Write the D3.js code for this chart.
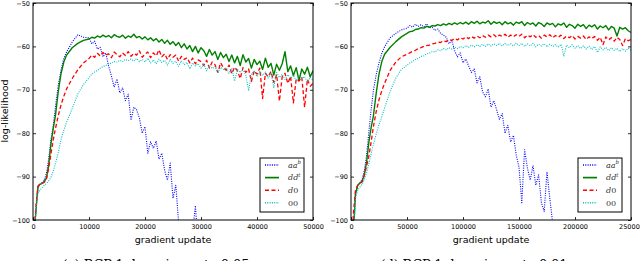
<!DOCTYPE html>
<html>
<head>
<meta charset="utf-8">
<script src="https://cdn.jsdelivr.net/npm/d3@7"></script>
<style>
  body { margin: 0; background: #fff; }
  svg { display: block; }
  .axis text { font-family: "DejaVu Sans", sans-serif; font-size: 6.5px; fill: #000; }
  .axis line { stroke: #000; stroke-width: 0.8; }
</style>
</head>
<body>
<div id="chart"></div>
<script>
// gradient updates, learning rate 0.05 panel
const updatesA = [0, 400, 700, 900, 1200, 1600, 2000, 2400, 2800, 3200, 3600, 4000, 4500, 5000, 5500, 6000, 7000, 8000, 9000,
  10000, 10500, 11000, 11500, 12000, 12500, 13000, 13500, 14000, 14500,
  15000, 15500, 16000, 16500, 17000, 17500, 18000, 18500, 19000, 19500,
  20000, 20500, 21000, 21500, 22000, 22500, 23000, 23500, 24000, 24500,
  25000, 25500, 26000, 26500, 27000, 27500, 28000, 28500, 29000, 29500,
  30000, 30500, 31000, 31500, 32000, 32500, 33000, 33500, 34000, 34500,
  35000, 35500, 36000, 36500, 37000, 37500, 38000, 38500, 39000, 39500,
  40000, 40500, 41000, 41500, 42000, 42500, 43000, 43500, 44000, 44500,
  45000, 45500, 46000, 46500, 47000, 47500, 48000, 48500, 49000, 49500,
  50000];

const abA = [-115, -100, -95, -92.5, -91.8, -91.4, -90.8, -89.2, -86, -81.5, -78.5, -74, -69, -65.5, -62.8, -61.3, -59.0, -57.3, -57.9,
  -58.0, -59.4, -58.8, -60.6, -60.2, -62.4, -61.5, -64.5, -66.8, -69.4,
  -67.5, -70.7, -69.5, -72.5, -71.0, -77.0, -74.0, -74.6, -76.5, -80.0,
  -78.5, -84.6, -82.0, -83.5, -81.8, -86.0, -84.6, -88.5, -90.8, -86.9,
  -95.0, -92.0, -100.5, -104, -108, -106, -110, -103, -96.7, -106,
  -112];

const dtA = [-115, -100, -95, -92.2, -91.8, -91.6, -91.2, -90.3, -87.5, -82.5, -79, -76, -70.5, -66.3, -63.6, -62, -60.3, -59.3, -58.6,
  -58.3, -57.9, -58.1, -57.6, -57.9, -57.4, -57.8, -57.5, -58.0, -57.3,
  -57.7, -57.9, -57.4, -58.1, -57.6, -57.9, -57.2, -58.0, -57.7, -58.3,
  -57.8, -58.5, -58.0, -58.7, -58.2, -59.0, -58.4, -59.3, -58.6, -59.5,
  -58.9, -59.8, -59.1, -60.3, -59.4, -60.6, -59.8, -61.2, -60.0, -61.5,
  -60.3, -61.0, -62.3, -60.7, -62.0, -61.2, -63.0, -61.4, -62.6, -61.8,
  -63.5, -62.0, -63.8, -62.3, -64.4, -61.9, -63.6, -62.8, -65.0, -63.0,
  -64.2, -63.4, -65.3, -62.7, -64.8, -63.9, -66.6, -64.1, -65.5, -64.0,
  -61.2, -65.8, -64.5, -66.7, -64.9, -67.8, -65.2, -66.4, -64.8, -67.0,
  -65.6];

const d0A = [-115, -99, -94.5, -92.2, -91.8, -91.6, -91.3, -90.6, -88, -84.8, -81.6, -79, -76, -73.5, -71.5, -69.8, -67.4, -65.4, -63.8,
  -62.8, -62.0, -62.5, -61.6, -62.2, -61.4, -62.0, -61.7, -62.6, -61.3,
  -61.9, -62.4, -61.5, -62.1, -61.2, -62.3, -61.6, -62.0, -61.0, -62.5,
  -61.8, -61.3, -62.6, -61.5, -62.2, -60.8, -62.4, -61.7, -63.0, -61.9,
  -62.5, -62.0, -63.4, -62.3, -63.0, -62.6, -63.8, -62.7, -64.0, -63.1,
  -63.5, -64.4, -63.2, -65.0, -63.6, -64.2, -66.0, -63.8, -64.9, -65.5,
  -64.3, -66.3, -64.8, -65.6, -67.4, -64.9, -66.0, -65.2, -68.1, -65.6,
  -66.4, -65.0, -72.0, -66.2, -67.0, -65.8, -68.3, -66.5, -72.6, -67.0,
  -66.2, -68.5, -66.9, -73.0, -67.5, -68.0, -67.1, -74.0, -67.6, -69.2,
  -68.5];

const zzA = [-115, -100, -95.5, -93.8, -93.2, -92.6, -92.0, -91.6, -91.0, -90.2, -88.8, -87.0, -84.5, -81.5, -79.3, -77.5, -74.3, -71, -68.8,
  -67.2, -66.4, -65.9, -65.6, -65.0, -64.6, -64.4, -64.0, -63.9, -63.5,
  -63.6, -63.2, -63.5, -63.0, -63.3, -62.9, -63.4, -62.8, -63.5, -63.0,
  -63.6, -62.7, -63.8, -63.1, -64.0, -62.9, -63.7, -63.2, -64.3, -63.0,
  -63.9, -63.4, -64.6, -63.3, -64.2, -63.7, -65.2, -63.8, -64.5, -64.0,
  -65.0, -64.1, -65.6, -64.4, -65.1, -64.6, -66.0, -64.8, -65.3, -64.9,
  -66.2, -65.0, -68.0, -65.3, -66.0, -65.4, -66.6, -70.2, -66.3, -65.7,
  -67.0, -65.8, -66.7, -65.9, -67.3, -66.1, -69.5, -66.0, -67.2, -66.4,
  -67.6, -66.5, -67.4, -66.6, -68.0, -66.8, -67.6, -66.9, -68.2, -67.1,
  -67.8];

// gradient updates, learning rate 0.01 panel
const updatesB = [0, 2000, 4000, 6000, 8000, 10000, 12000, 14000, 16000, 18000, 20000, 22500, 25000, 27500, 30000, 35000, 40000, 45000,
  50000, 52500, 55000, 57500, 60000, 62500, 65000, 67500, 70000, 72500,
  75000, 77500, 80000, 82500, 85000, 87500, 90000, 92500, 95000, 97500,
  100000, 102500, 105000, 107500, 110000, 112500, 115000, 117500, 120000, 122500,
  125000, 127500, 130000, 132500, 135000, 137500, 140000, 142500, 145000, 147500,
  150000, 152500, 155000, 157500, 160000, 162500, 165000, 167500, 170000, 172500,
  175000, 177500, 180000, 182500, 185000, 187500, 190000, 192500, 195000, 197500,
  200000, 202500, 205000, 207500, 210000, 212500, 215000, 217500, 220000, 222500,
  225000, 227500, 230000, 232500, 235000, 237500, 240000, 242500, 245000, 247500,
  250000];

const abB = [-115, -103, -94, -92, -91.4, -90.5, -88.5, -85, -79.5, -74.5, -70.2, -66.5, -63.8, -61.6, -60.1, -58, -57, -56.2,
  -55.8, -55.2, -55.6, -54.9, -55.4, -55.0, -55.5, -54.8, -55.7, -55.6,
  -56.3, -56.0, -57.0, -57.4, -57.9, -59.4, -58.6, -61.0, -62.4, -61.5,
  -63.8, -62.9, -64.5, -66.0, -65.2, -68.4, -67.0, -70.5, -71.6, -69.8,
  -74.0, -72.5, -74.6, -76.8, -75.5, -80.0, -78.2, -82.0, -80.5, -85.0,
  -87.8, -96.0, -83.8, -88.0, -90.8, -87.5, -92.0, -89.6, -96.0, -98.0,
  -88.9, -95.0, -100.5, -104, -108];

const dtB = [-115, -104, -94, -92, -91.5, -91, -89.5, -86.5, -82, -78.6, -76, -70.8, -66.4, -63.5, -61.8, -60.2, -58.9, -57.8,
  -57.0, -56.6, -56.5, -56.1, -56.0, -55.7, -55.8, -55.4, -55.6, -55.2,
  -55.3, -55.0, -55.2, -54.8, -55.1, -54.7, -55.0, -54.6, -54.9, -54.5,
  -54.8, -54.4, -54.9, -54.3, -54.7, -54.2, -54.8, -54.4, -54.6, -54.1,
  -54.9, -54.3, -54.7, -54.4, -55.0, -54.3, -54.8, -54.5, -55.1, -54.4,
  -54.7, -54.3, -55.2, -54.5, -54.9, -54.6, -55.3, -54.5, -54.8, -55.4,
  -54.6, -55.0, -54.7, -55.5, -54.8, -55.1, -54.6, -55.6, -54.9, -55.2,
  -55.8, -54.9, -55.4, -55.0, -55.9, -55.1, -55.5, -55.0, -56.0, -55.3,
  -55.7, -55.2, -56.2, -55.4, -55.8, -57.6, -55.6, -56.0, -55.7, -56.4,
  -56.8];

const d0B = [-115, -99, -93, -92, -91.6, -91.2, -89.6, -87.5, -85.2, -82, -78.5, -75, -72.3, -70.2, -68.5, -65.5, -63.6, -62.4,
  -61.8, -61.5, -61.1, -60.9, -60.5, -60.3, -60.0, -59.8, -59.7, -59.4,
  -59.3, -59.0, -59.1, -58.7, -58.9, -58.4, -58.6, -58.2, -58.5, -58.0,
  -58.3, -57.8, -58.2, -57.7, -58.1, -57.6, -58.0, -57.5, -57.9, -57.4,
  -57.8, -57.3, -57.9, -57.4, -57.7, -57.2, -57.9, -57.4, -57.8, -57.3,
  -57.7, -57.2, -58.0, -57.4, -57.8, -57.3, -57.9, -57.5, -58.1, -57.4,
  -57.8, -57.3, -58.0, -57.5, -57.9, -57.4, -58.2, -57.6, -58.0, -57.5,
  -58.3, -57.7, -58.1, -57.6, -58.4, -57.8, -58.2, -57.7, -58.6, -57.9,
  -59.6, -57.8, -58.5, -58.0, -58.8, -57.9, -58.4, -59.8, -58.2, -58.7,
  -58.4];

const zzB = [-115, -104, -95, -93.2, -92.4, -91.8, -90.6, -89, -87, -84.8, -82.6, -80.2, -78, -76.2, -74.2, -70.3, -67.3, -65.3,
  -64.3, -63.8, -63.5, -63.0, -62.8, -62.3, -62.2, -61.7, -61.6, -61.2,
  -61.3, -60.8, -61.0, -60.5, -60.8, -60.3, -60.6, -60.1, -60.5, -60.0,
  -60.3, -59.8, -60.2, -59.7, -60.1, -59.6, -60.0, -59.5, -60.0, -59.4,
  -59.9, -59.4, -59.8, -59.3, -59.9, -59.3, -59.8, -59.4, -59.9, -59.2,
  -59.8, -59.3, -60.0, -59.4, -59.9, -59.3, -60.1, -59.5, -59.9, -59.4,
  -60.1, -59.5, -60.0, -59.6, -60.2, -59.5, -62.2, -59.7, -60.3, -59.6,
  -60.4, -59.8, -60.5, -59.9, -60.6, -59.9, -60.7, -60.0, -61.4, -60.1,
  -60.8, -60.2, -61.0, -60.3, -60.9, -60.4, -61.2, -60.5, -61.1, -60.4,
  -60.9];

const yTicks = [-100, -90, -80, -70, -60, -50];
const xTicksA = [0, 10000, 20000, 30000, 40000, 50000];
const xTicksB = [0, 50000, 100000, 150000, 200000, 250000];
const legendBase = ["aa", "dd", "d0", "00"];
const legendSup = ["b", "t", "", ""];
const captionA = "(c) RCP-1, learning rate 0.05";
const captionB = "(d) RCP-1, learning rate 0.01";

const styles = [
  { color: "#0000ff", width: 1.1, dash: "1,1.3" },
  { color: "#008000", width: 1.4, dash: null },
  { color: "#ff0000", width: 1.3, dash: "4,2.5" },
  { color: "#00bfbf", width: 1.1, dash: "1,1.3" },
];

const W = 640, H = 261;
const plotTop = 3, plotBottom = 220;

const svg = d3
  .select("#chart")
  .append("svg")
  .attr("width", W)
  .attr("height", H);

const y = d3.scaleLinear().domain([-100, -50]).range([plotBottom, plotTop]);

const panels = [
  { id: "a", left: 33, right: 313, updates: updatesA, series: [abA, dtA, d0A, zzA], xTicks: xTicksA, legendX: 260, caption: captionA },
  { id: "b", left: 351, right: 631, updates: updatesB, series: [abB, dtB, d0B, zzB], xTicks: xTicksB, legendX: 578, caption: captionB },
];

panels.forEach((p) => {
  const x = d3
    .scaleLinear()
    .domain([0, p.xTicks[p.xTicks.length - 1]])
    .range([p.left, p.right]);

  svg
    .append("clipPath")
    .attr("id", "clip-" + p.id)
    .append("rect")
    .attr("x", p.left)
    .attr("y", plotTop)
    .attr("width", p.right - p.left)
    .attr("height", plotBottom - plotTop);

  const g = svg.append("g").attr("clip-path", `url(#clip-${p.id})`);

  const line = d3
    .line()
    .x((d) => x(d[0]))
    .y((d) => y(d[1]));

  p.series.forEach((vals, i) => {
    const pts = vals.map((v, k) => [p.updates[k], v]);
    g.append("path")
      .attr("d", line(pts))
      .attr("fill", "none")
      .attr("stroke", styles[i].color)
      .attr("stroke-width", styles[i].width)
      .attr("stroke-dasharray", styles[i].dash)
      .attr("stroke-linejoin", "round");
  });

  // axes, ticks pointing inward
  svg
    .append("g")
    .attr("class", "axis")
    .attr("transform", `translate(0,${plotBottom})`)
    .call(d3.axisBottom(x).tickValues(p.xTicks).tickFormat(d3.format("d")).tickSize(-3).tickSizeOuter(0).tickPadding(4));
  svg
    .append("g")
    .attr("class", "axis")
    .attr("transform", `translate(0,${plotTop})`)
    .call(d3.axisTop(x).tickValues(p.xTicks).tickFormat("").tickSize(-3).tickSizeOuter(0));
  svg
    .append("g")
    .attr("class", "axis")
    .attr("transform", `translate(${p.left},0)`)
    .call(d3.axisLeft(y).tickValues(yTicks).tickSize(-3).tickSizeOuter(0).tickPadding(3));
  svg
    .append("g")
    .attr("class", "axis")
    .attr("transform", `translate(${p.right},0)`)
    .call(d3.axisRight(y).tickValues(yTicks).tickFormat("").tickSize(-3).tickSizeOuter(0));
  svg.selectAll(".axis .domain").remove();

  svg
    .append("rect")
    .attr("x", p.left)
    .attr("y", plotTop)
    .attr("width", p.right - p.left)
    .attr("height", plotBottom - plotTop)
    .attr("fill", "none")
    .attr("stroke", "#000")
    .attr("stroke-width", 1);

  svg
    .append("text")
    .attr("x", (p.left + p.right) / 2)
    .attr("y", 243)
    .attr("text-anchor", "middle")
    .style("font-family", "DejaVu Sans, sans-serif")
    .style("font-size", "9.5px")
    .text("gradient update");

  // caption sits mostly below the bottom edge, as in the cropped figure
  svg
    .append("text")
    .attr("x", (p.left + p.right) / 2 - 17)
    .attr("y", 268.5)
    .attr("text-anchor", "middle")
    .style("font-family", "DejaVu Serif, serif")
    .style("font-size", "13px")
    .attr("textLength", 187)
    .text(p.caption);

  // legend
  const lg = svg.append("g").attr("transform", `translate(${p.legendX},158)`);
  lg.append("rect")
    .attr("width", 44)
    .attr("height", 54)
    .attr("fill", "#fff")
    .attr("stroke", "#000")
    .attr("stroke-width", 1);
  legendBase.forEach((name, i) => {
    const ry = 7 + i * 12.6;
    lg.append("line")
      .attr("x1", 5)
      .attr("x2", 19)
      .attr("y1", ry)
      .attr("y2", ry)
      .attr("stroke", styles[i].color)
      .attr("stroke-width", styles[i].width + 0.3)
      .attr("stroke-dasharray", styles[i].dash);
    const t = lg
      .append("text")
      .attr("x", 28)
      .attr("y", ry + 2.8)
      .style("font-family", "DejaVu Serif, serif")
      .style("font-size", "8px")
      .style("fill", "#333");
    // letters italic, digits upright, like math text
    name.split("").forEach((ch) => {
      t.append("tspan")
        .style("font-style", /[0-9]/.test(ch) ? "normal" : "italic")
        .text(ch);
    });
    if (legendSup[i]) {
      t.append("tspan").attr("dy", -3.5).style("font-style", "italic").style("font-size", "5.5px").text(legendSup[i]);
    }
  });
});

svg
  .append("text")
  .attr("transform", "rotate(-90)")
  .attr("x", -111)
  .attr("y", 8)
  .attr("text-anchor", "middle")
  .style("font-family", "DejaVu Sans, sans-serif")
  .style("font-size", "9.5px")
  .text("log-likelihood");
</script>
</body>
</html>
